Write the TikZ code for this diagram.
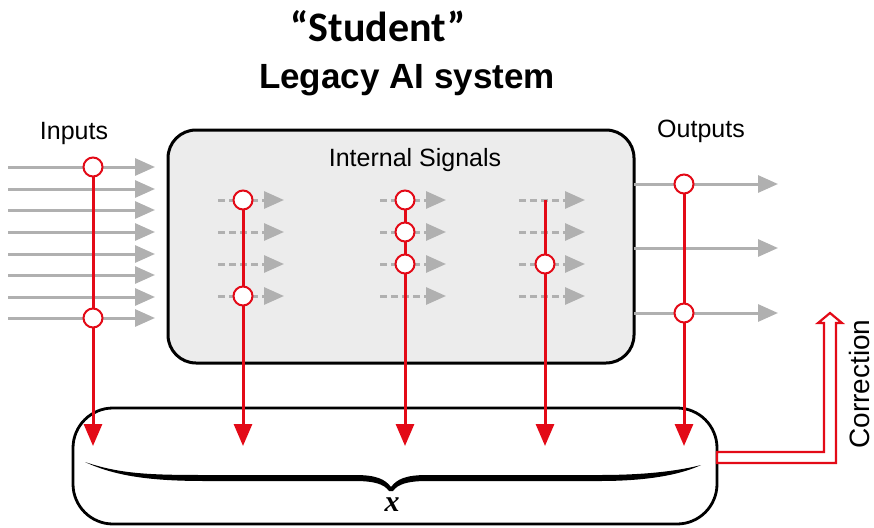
\documentclass[tikz,border=0pt]{standalone}
\usepackage{fontspec}
\setmainfont{Liberation Sans}
\newfontfamily\headfont{Carlito}
\newfontfamily\mathserif{Liberation Serif}
\usetikzlibrary{arrows.meta}

\definecolor{sigred}{HTML}{E30A17}
\definecolor{siggray}{HTML}{B0B0B0}
\definecolor{boxfill}{HTML}{ECECEC}

\tikzset{
  sigline/.style={draw=siggray, line width=3pt, -{Triangle[length=20pt,width=17pt]}},
  dashsig/.style={sigline, dash pattern=on 7pt off 4pt},
  probe/.style={draw=sigred, line width=3pt},
  probearrow/.style={probe, -{Triangle[length=22pt,width=18pt]}},
  tap/.style={circle, draw=sigred, fill=white, line width=2pt, minimum size=19pt, inner sep=0pt},
  systembox/.style={draw=black, line width=3pt, fill=boxfill, rounded corners=28pt},
  lbl/.style={font=\fontsize{25}{30}\selectfont, inner sep=0pt},
}

\begin{document}
\begin{tikzpicture}[x=1pt, y=-1pt]
\useasboundingbox (0,0) rectangle (874,527);

% titles
\node (student) [inner sep=0pt, font=\headfont\bfseries\fontsize{42}{48}\selectfont] at (378,26) {“Student”};
\node (legacy) [inner sep=0pt, font=\bfseries\fontsize{35}{40}\selectfont] at (407,80) {Legacy AI system};

% system box
\node (sys) [systembox, minimum width=466pt, minimum height=233pt] at (401,246.5) {};
\node (internal) [lbl] at (415,160) {Internal Signals};
\node (inputs) [lbl] at (74,133) {Inputs};
\node (outputs) [lbl] at (701,131) {Outputs};

% input signals
\foreach \i/\y in {1/167,2/189,3/210,4/232,5/254,6/275,7/297,8/318} {
  \coordinate (in\i s) at (8,\y);
  \coordinate (in\i e) at (155,\y);
  \draw[sigline] (in\i s) -- (in\i e);
}

% internal signals (three groups of four)
\foreach \g/\xs in {a/218,b/380,c/519} {
  \foreach \i/\y in {1/200,2/232,3/264,4/296} {
    \coordinate (\g\i s) at (\xs,\y);
    \coordinate (\g\i e) at (\xs+66,\y);
    \draw[dashsig] (\g\i s) -- (\g\i e);
  }
}

% output signals
\foreach \i/\y in {1/184,2/248,3/313} {
  \coordinate (out\i s) at (634,\y);
  \coordinate (out\i e) at (778,\y);
  \draw[sigline] (out\i s) -- (out\i e);
}

% bottom collector box
\draw[line width=2.8pt, rounded corners=40pt]
  (400,408) -- (73,408) -- (73,524) -- (717,524) -- (717,408) [sharp corners] -- cycle;

% probe ends
\coordinate (pin) at (93,446);
\coordinate (pa) at (243,446);
\coordinate (pb) at (405,446);
\coordinate (pc) at (545,446);
\coordinate (pout) at (684,446);
\coordinate (ctop) at (545,200);

% probe lines
\draw[probearrow] (93,167) -- (pin);
\draw[probearrow] (243,200) -- (pa);
\draw[probearrow] (405,200) -- (pb);
\draw[probearrow] (ctop) -- (pc);
\draw[probearrow] (684,184) -- (pout);

% taps
\node (t1) [tap] at (93,167) {};
\node (t2) [tap] at (93,318) {};
\node (t3) [tap] at (243,200) {};
\node (t4) [tap] at (243,296) {};
\node (t5) [tap] at (405,200) {};
\node (t6) [tap] at (405,232) {};
\node (t7) [tap] at (405,264) {};
\node (t8) [tap] at (545,264) {};
\node (t9) [tap] at (684,184) {};
\node (t10) [tap] at (684,313) {};

% brace over the collected signals
\fill[black]
  (85,462) .. controls (120,474) and (150,475) .. (205,475)
  -- (355,475) .. controls (376,475) and (385,479) .. (391,487)
  .. controls (397,479) and (406,475) .. (427,475)
  -- (600,475) .. controls (650,475) and (682,470) .. (701,465)
  .. controls (682,474) and (650,481) .. (600,481)
  -- (427,481) .. controls (408,481) and (398,484) .. (393,491)
  -- (389,491) .. controls (384,484) and (374,481) .. (355,481)
  -- (205,481) .. controls (150,481) and (115,476) .. (85,462) -- cycle;
\node (xlabel) [inner sep=0pt, font=\mathserif\bfseries\itshape\fontsize{30}{34}\selectfont] at (392,505) {x};

% correction arrow
\coordinate (corr) at (717,457);
\draw[draw=sigred, fill=white, line width=2.2pt, line join=miter]
  (717,452) -- (824,452) -- (824,323) -- (818,323) -- (830,313) -- (842,323)
  -- (836,323) -- (836,463) -- (717,463) -- cycle;
\node (correction) [inner sep=0pt, rotate=90, font=\fontsize{28}{30}\selectfont] at (859,384) {Correction};
\end{tikzpicture}
\end{document}
